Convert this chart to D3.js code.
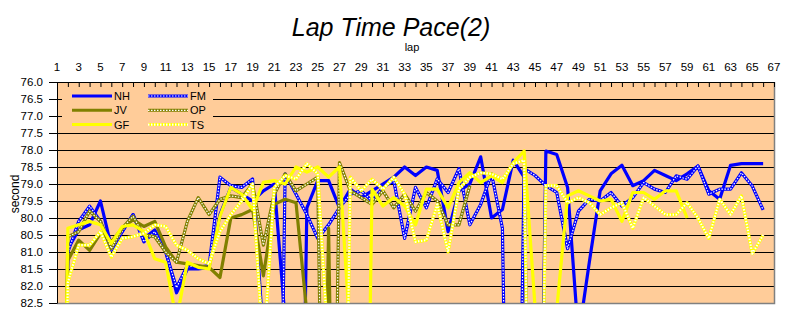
<!DOCTYPE html>
<html>
<head>
<meta charset="utf-8">
<script src="https://cdn.jsdelivr.net/npm/d3@7/dist/d3.min.js"></script>
<style>
  html, body { margin: 0; padding: 0; background: #ffffff; }
  svg { display: block; font-family: "Liberation Sans", Arial, sans-serif; }
</style>
</head>
<body>
<svg id="chart" width="787" height="327"></svg>
<script>
// Lap times (seconds) per driver, laps 1..66; null = no lap recorded
const laps = d3.range(1, 67);
const NH = [100, 80.9, 80.35, 80.2, 79.5, 80.85, 80.4, 79.9, 80.6, 80.35, 80.95, 82.2, 81.5, 81.5, 81.45, 79.9, 79.1, 79.3, 79.5, 79.2, 79.0, 83.0, 100, 79.7, 78.9, 78.9, 79.7, 79.15, 79.4, 79.2, 79.0, 78.8, 78.5, 78.75, 78.5, 78.6, 80.4, 79.2, 79.0, 78.2, 80.0, 79.75, 78.3, 78.8, 100, 78.03, 78.13, 79.1, 83.5, 81.3, 79.2, 78.7, 78.45, 79.05, 78.9, 78.6, 78.75, 78.9, 78.7, 78.47, 79.2, 79.45, 78.45, 78.4, 78.4, 78.4];
const FM = [100, 81.0, 80.1, 79.65, 80.1, 80.95, 80.4, 79.9, 80.7, 80.4, 81.0, 82.05, 81.4, 81.45, 81.4, 78.8, 79.05, 79.1, 78.85, 83.5, 100, 78.7, 79.3, 79.9, 80.6, 80.2, 79.7, 79.3, 79.2, 79.5, 79.1, 78.9, 80.6, 79.1, 79.7, 78.85, 79.25, 78.55, 80.2, 79.6, 78.7, 80.3, 100, 78.55, 78.75, 79.05, 79.25, 80.9, 79.8, 79.45, 79.5, 79.25, 79.65, 79.4, 78.96, 79.15, 79.25, 78.76, 78.86, 78.47, 79.3, 79.15, 79.15, 78.67, 79.06, 79.76];
const JV = [100, 81.25, 80.65, 80.95, 80.45, 80.7, 80.3, 80.05, 80.25, 80.1, 80.85, 81.3, 81.35, 81.4, 81.45, 81.75, 80.0, 79.9, 79.75, 81.7, 79.6, 79.45, 79.55, 82.8, 100, 80.3, 100, null, null, null, null, null, null, null, null, null, null, null, null, null, null, null, null, null, null, null, null, null, null, null, null, null, null, null, null, null, null, null, null, null, null, null, null, null, null, null];
const OP = [100, 80.55, 80.4, 79.8, 80.1, 80.9, 80.3, 79.95, 80.5, 80.55, 81.0, 81.3, 80.1, 79.4, 79.9, 79.45, 79.35, 79.4, 79.0, 80.8, 79.3, 78.7, 79.2, 79.0, 78.8, 100, 78.37, 79.2, 79.4, 79.6, 79.2, 79.7, 79.3, 79.8, 79.25, 79.5, 80.2, 80.2, 79.05, null, null, null, null, null, null, null, null, null, null, null, null, null, null, null, null, null, null, null, null, null, null, null, null, null, null, null];
const GF = [100, 80.3, 80.2, 80.1, 80.2, 80.75, 80.25, 80.2, 80.4, 81.2, 81.3, 83.0, 81.3, 81.45, 81.5, 79.95, 79.1, 79.3, 79.75, 78.95, 78.9, 79.0, 78.5, 78.65, 78.5, 78.8, 78.5, 83.5, 100, 79.15, 79.65, 79.4, 79.65, 80.2, 79.15, 79.15, 79.7, 78.96, 78.67, 78.96, 78.76, 78.96, 78.37, 78.03, 82.6, 100, 82.7, 79.35, 79.2, 79.35, 79.5, 79.45, 80.1, 79.25, 79.25, 79.45, 79.2, 79.2, 80.0, null, null, null, null, null, null, null];
const TS = [100, 81.9, 80.8, 80.8, 80.4, 81.15, 80.6, 80.55, 80.45, 80.2, 80.25, 80.8, 80.95, 81.2, 81.35, 80.4, 79.9, 79.5, 79.0, 84, 79.1, 78.75, 78.85, 78.4, 78.7, 84, 100, 78.8, 79.2, 78.86, 79.15, 78.8, 79.3, 80.7, 80.65, 79.6, 81.0, 79.15, 78.8, 78.67, 78.7, 78.86, 78.4, 78.3, 100, 79.05, 79.05, 79.55, 79.4, 79.55, 79.9, 79.7, 79.55, 80.3, 79.4, 79.65, 79.9, 79.9, 79.55, 80.0, 80.6, 79.45, 79.9, 79.35, 81.05, 80.5];

const seriesNames = ["NH", "FM", "JV", "OP", "GF", "TS"];
const seriesValues = [NH, FM, JV, OP, GF, TS];
const xTickLabels = d3.range(1, 68, 2);
const yTickLabels = d3.range(76, 82.51, 0.5);

// line styles: solid = single stroke; dotted = base stroke + white dash overlay
const styles = {
  NH: { color: "#0000ff", dotted: false },
  FM: { color: "#0000ff", dotted: true, dotWidth: 1.2 },
  JV: { color: "#808000", dotted: false },
  OP: { color: "#808000", dotted: true, dotWidth: 1.2 },
  GF: { color: "#ffff00", dotted: false },
  TS: { color: "#ffff00", dotted: true, dotWidth: 2.2 }
};

const svg = d3.select("#chart");
const plot = { left: 57, right: 774, top: 82, bottom: 303 };

const x = d3.scaleLinear().domain([1, 67]).range([plot.left, plot.right]);
const y = d3.scaleLinear().domain([76, 82.5]).range([plot.top, plot.bottom]);

// title
svg.append("text")
  .attr("x", 391).attr("y", 36)
  .attr("text-anchor", "middle")
  .style("font-size", "25px").style("font-style", "italic")
  .text("Lap Time Pace(2)");

svg.append("text")
  .attr("x", 412).attr("y", 51)
  .attr("text-anchor", "middle")
  .style("font-size", "11px")
  .text("lap");

svg.append("text")
  .attr("transform", "translate(19,194) rotate(-90)")
  .attr("text-anchor", "middle")
  .style("font-size", "12px")
  .text("second");

// plot background
svg.append("rect")
  .attr("x", plot.left).attr("y", plot.top)
  .attr("width", plot.right - plot.left).attr("height", plot.bottom - plot.top)
  .attr("fill", "#ffcc99");

// horizontal gridlines
svg.append("g").selectAll("line")
  .data(yTickLabels.filter(v => v > 76 && v < 82.5))
  .join("line")
  .attr("x1", plot.left).attr("x2", plot.right)
  .attr("y1", d => Math.round(y(d)) + 0.5).attr("y2", d => Math.round(y(d)) + 0.5)
  .attr("stroke", "#000").attr("stroke-width", 1);

// plot-area border (right/bottom grey)
svg.append("path")
  .attr("d", `M${plot.right + 0.5},${plot.top}V${plot.bottom + 0.5}H${plot.left}`)
  .attr("fill", "none").attr("stroke", "#808080").attr("stroke-width", 1.5);

// series lines
svg.append("clipPath").attr("id", "clip")
  .append("rect")
  .attr("x", plot.left).attr("y", plot.top)
  .attr("width", plot.right - plot.left).attr("height", plot.bottom - plot.top);

const line = d3.line()
  .defined(d => d.v !== null)
  .x(d => x(d.lap)).y(d => y(d.v));

const lines = svg.append("g").attr("clip-path", "url(#clip)");

function drawStroke(g, d, st, w) {
  g.append("path").attr("d", d).attr("fill", "none")
    .attr("stroke", st.color).attr("stroke-width", w)
    .attr("stroke-linejoin", "round");
  if (st.dotted) {
    g.append("path").attr("d", d).attr("fill", "none")
      .attr("stroke", "#ffffff").attr("stroke-width", st.dotWidth)
      .attr("stroke-dasharray", "1.5 1.5")
      .attr("stroke-linejoin", "round");
  }
}

seriesNames.forEach((name, i) => {
  const pts = laps.map((lap, k) => ({ lap, v: seriesValues[i][k] }));
  drawStroke(lines, line(pts), styles[name], 3.2);
});

// legend (on plot background)
const legend = svg.append("g");
legend.append("rect")
  .attr("x", 62).attr("y", 88).attr("width", 151).attr("height", 44)
  .attr("fill", "#ffcc99");
seriesNames.forEach((name, i) => {
  const col = i % 2, row = Math.floor(i / 2);
  const lx = 72 + col * 76, ly = 96 + row * 14.3;
  drawStroke(legend, `M${lx},${ly}H${lx + 40}`, styles[name], 3);
  legend.append("text")
    .attr("x", lx + 42).attr("y", ly + 4)
    .style("font-size", "11px")
    .text(name);
});

// axes: x on top with inward ticks, y on left with outward ticks
const xAxis = svg.append("g")
  .attr("transform", `translate(0,${plot.top})`)
  .call(d3.axisTop(x).tickValues(d3.range(1, 68)).tickSize(-5).tickSizeOuter(0).tickFormat(""));
xAxis.select(".domain").attr("stroke", "#000");
xAxis.selectAll(".tick line").attr("stroke", "#000");

svg.append("g").selectAll("text")
  .data(xTickLabels)
  .join("text")
  .attr("x", d => x(d)).attr("y", 71)
  .attr("text-anchor", "middle")
  .style("font-size", "11.5px")
  .text(d => d);

const yAxis = svg.append("g")
  .attr("transform", `translate(${plot.left},0)`)
  .call(d3.axisLeft(y).tickValues(yTickLabels).tickSize(8).tickSizeOuter(0).tickFormat(d3.format(".1f")));
yAxis.select(".domain").attr("stroke", "#000");
yAxis.selectAll(".tick line").attr("stroke", "#000");
yAxis.selectAll(".tick text")
  .attr("x", -14)
  .style("font-size", "11.5px")
  .style("font-family", "\"Liberation Sans\", Arial, sans-serif")
  .attr("fill", "#000");
</script>
</body>
</html>
